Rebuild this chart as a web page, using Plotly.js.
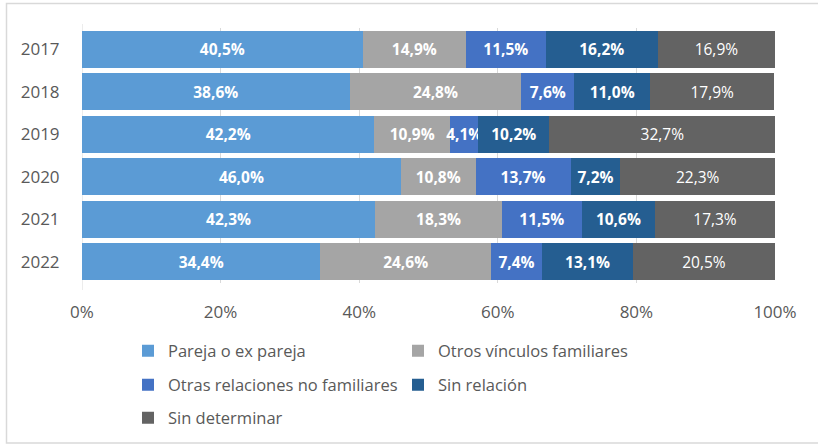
<!DOCTYPE html>
<html>
<head>
<meta charset="utf-8">
<script src="https://cdn.plot.ly/plotly-3.0.1.min.js"></script>
<style>html,body{margin:0;padding:0;background:#fff;}#chart{width:818px;height:445px;}</style>
</head>
<body>
<div id="chart"></div>
<script>
const years = ['2017','2018','2019','2020','2021','2022'];
const seriesNames = ['Pareja o ex pareja','Otros vínculos familiares','Otras relaciones no familiares','Sin relación','Sin determinar'];
const pareja = [40.5, 38.6, 42.2, 46.0, 42.3, 34.4];
const otrosVinculos = [14.9, 24.8, 10.9, 10.8, 18.3, 24.6];
const otrasRelaciones = [11.5, 7.6, 4.1, 13.7, 11.5, 7.4];
const sinRelacion = [16.2, 11.0, 10.2, 7.2, 10.6, 13.1];
const sinDeterminar = [16.9, 17.9, 32.7, 22.3, 17.3, 20.5];
const xTickVals = [0, 20, 40, 60, 80, 100];

const colors = ['#5B9BD5', '#A5A5A5', '#4472C4', '#255E91', '#636363'];
const weights = ['bold', 'bold', 'bold', 'bold', 'normal'];
const legendIds = ['legend', 'legend', 'legend2', 'legend2', 'legend3'];
const allSeries = [pareja, otrosVinculos, otrasRelaciones, sinRelacion, sinDeterminar];

const fmt = v => v.toFixed(1).replace('.', ',') + '%';

const traces = allSeries.map((vals, i) => ({
  type: 'bar',
  orientation: 'h',
  name: seriesNames[i],
  y: years,
  x: vals,
  text: vals.map(fmt),
  textposition: 'inside',
  insidetextanchor: 'middle',
  textangle: 0,
  textfont: {family: 'Open Sans, sans-serif', size: 15.5, color: '#FFFFFF', weight: weights[i]},
  marker: {color: colors[i], line: {width: 0}},
  legend: legendIds[i],
  hoverinfo: 'skip'
}));

const L = 82, R = 43, T = 28, B = 162;
const pw = 818 - L - R, ph = 445 - T - B;
const px2x = p => (p - L) / pw;
const px2y = p => (445 - B - p) / ph;

const legBase = {
  orientation: 'h',
  font: {family: 'Open Sans, sans-serif', size: 16.5, color: '#595959'},
  xanchor: 'left',
  yanchor: 'middle',
  x: px2x(128),
  entrywidth: 225,
  entrywidthmode: 'pixels',
  bgcolor: 'rgba(0,0,0,0)',
  traceorder: 'normal'
};

const layout = {
  width: 818,
  height: 445,
  margin: {l: L, r: R, t: T, b: B, autoexpand: false},
  paper_bgcolor: '#FFFFFF',
  plot_bgcolor: '#FFFFFF',
  barmode: 'stack',
  bargap: 0.12,
  showlegend: true,
  uniformtext: {mode: 'show', minsize: 15.5},
  font: {family: 'Open Sans, sans-serif', color: '#595959'},
  xaxis: {
    range: [0, 100],
    tickvals: xTickVals,
    ticktext: xTickVals.map(v => v + '%'),
    showgrid: true,
    gridcolor: '#D9D9D9',
    gridwidth: 1,
    zeroline: false,
    showline: false,
    ticks: 'outside',
    ticklen: 14,
    tickcolor: 'rgba(0,0,0,0)',
    tickfont: {family: 'Open Sans, sans-serif', size: 17, color: '#595959'},
    fixedrange: true
  },
  yaxis: {
    type: 'category',
    categoryorder: 'array',
    categoryarray: years,
    autorange: 'reversed',
    showgrid: false,
    zeroline: false,
    showline: false,
    ticks: 'outside',
    ticklen: 18,
    tickcolor: 'rgba(0,0,0,0)',
    tickfont: {family: 'Open Sans, sans-serif', size: 17, color: '#595959'},
    fixedrange: true
  },
  legend: Object.assign({}, legBase, {y: px2y(351)}),
  legend2: Object.assign({}, legBase, {y: px2y(385)}),
  legend3: Object.assign({}, legBase, {y: px2y(418)}),
  shapes: [{
    type: 'rect', xref: 'paper', yref: 'paper',
    x0: px2x(6.5), x1: px2x(830), y0: px2y(443), y1: px2y(3.5),
    line: {color: '#D9D9D9', width: 1.5},
    fillcolor: 'rgba(0,0,0,0)', layer: 'below'
  }, {
    type: 'line', xref: 'x', yref: 'paper',
    x0: 0, x1: 0, y0: px2y(290), y1: px2y(24),
    line: {color: '#D9D9D9', width: 1}, layer: 'below'
  }]
};

Plotly.newPlot('chart', traces, layout, {displayModeBar: false, staticPlot: true});
</script>
</body>
</html>
